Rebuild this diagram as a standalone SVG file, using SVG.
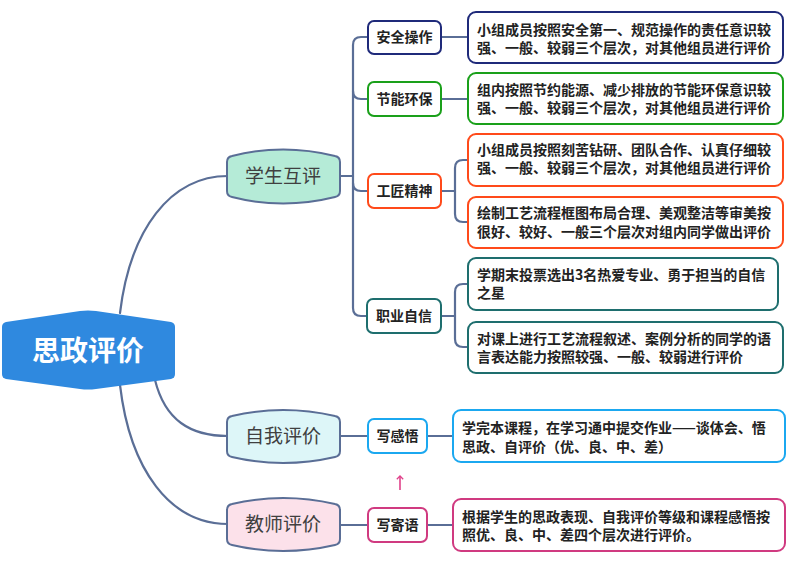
<svg xmlns="http://www.w3.org/2000/svg" width="803" height="569" viewBox="0 0 803 569">
<defs>
<style>
.ln{fill:none;stroke:#5A6E96;stroke-width:2.2;stroke-linecap:round}
.main{stroke:#5A6E96;stroke-width:2}
.mt{font-family:"Noto Sans CJK SC","Noto Sans",sans-serif;font-size:19px;fill:#404040;text-anchor:middle}
.sub{fill:#fff;stroke-width:2}
.st{font-family:"Noto Sans CJK SC","Noto Sans",sans-serif;font-size:14px;font-weight:bold;fill:#222;text-anchor:middle}
.lf{fill:#fff;stroke-width:2}
.lt{font-family:"Noto Sans CJK SC","Noto Sans",sans-serif;font-size:14px;font-weight:bold;fill:#222}
</style>
<marker id="ar" viewBox="0 0 10 10" refX="5" refY="5" markerWidth="5" markerHeight="5" orient="auto">
<path d="M1,1 L5,5 L1,9" fill="none" stroke="#E0408A" stroke-width="1.6"/>
</marker>
</defs>
<rect width="803" height="569" fill="#fff"/>
<g id="connectors">
<path class="ln" d="M120,313 C130,230 170,176 228,176"/>
<path class="ln" d="M155,380 C165,420 190,436 228,436"/>
<path class="ln" d="M120,385 C130,470 170,524 228,524"/>
<path class="ln" d="M340,176 H353"/>
<path class="ln" d="M368,37 H361 Q353,37 353,45 V308 Q353,316 361,316 H367"/>
<path class="ln" d="M353,91 Q353,99 361,99 H368"/>
<path class="ln" d="M353,183 Q353,191 361,191 H368"/>
<path class="ln" d="M441,37 H468"/>
<path class="ln" d="M441,99 H468"/>
<path class="ln" d="M441,191 H455"/>
<path class="ln" d="M468,160 H463 Q455,160 455,168 V214 Q455,222 463,222 H468"/>
<path class="ln" d="M441,316 H455"/>
<path class="ln" d="M468,284 H463 Q455,284 455,292 V339 Q455,347 463,347 H468"/>
<path class="ln" d="M340,436 H368"/>
<path class="ln" d="M427,436 H453"/>
<path class="ln" d="M340,525 H368"/>
<path class="ln" d="M427,525 H453"/>
<path d="M400,490 V476" fill="none" stroke="#E0408A" stroke-width="1.6" marker-end="url(#ar)"/>
</g>
<g id="root">
<path d="M2,327 Q2,323 6,322 L80,311 Q88,310 96,311 L171,322 Q175,323 175,327 L175,374 Q175,378 171,379 L96,389 Q88,390 80,389 L6,379 Q2,378 2,374 Z" fill="#2F89DF"/>
<text x="88" y="361" font-family="&quot;Noto Sans CJK SC&quot;,sans-serif" font-size="28" font-weight="bold" fill="#fff" text-anchor="middle">思政评价</text>
</g>
<g id="n-xshp">
<path class="main" fill="#B5EBD7" d="M227,162 Q227,157 232,156 Q283,143 335,156 Q340,157 340,162 L340,191 Q340,196 335,197 Q283,210 232,197 Q227,196 227,191 Z"/>
<text class="mt" x="283" y="183">学生互评</text>
</g>
<g id="n-zwpj">
<path class="main" fill="#DDF6F8" d="M227,422 Q227,417 232,416 Q283,404 335,416 Q340,417 340,422 L340,451 Q340,456 335,457 Q283,469 232,457 Q227,456 227,451 Z"/>
<text class="mt" x="283" y="443">自我评价</text>
</g>
<g id="n-jspj">
<path class="main" fill="#FCE1EA" d="M227,510 Q227,505 232,504 Q283,492 335,504 Q340,505 340,510 L340,539 Q340,544 335,545 Q283,557 232,545 Q227,544 227,539 Z"/>
<text class="mt" x="283" y="531">教师评价</text>
</g>
<g id="n-aqcz">
<rect class="sub" x="368" y="21" width="73" height="33" rx="6" stroke="#1F2A7A"/>
<text class="st" x="404.5" y="42">安全操作</text>
</g>
<g id="n-jnhb">
<rect class="sub" x="368" y="82" width="73" height="34" rx="6" stroke="#1AA01A"/>
<text class="st" x="404.5" y="104">节能环保</text>
</g>
<g id="n-gjjs">
<rect class="sub" x="368" y="174" width="73" height="34" rx="6" stroke="#FF4A1A"/>
<text class="st" x="404.5" y="196">工匠精神</text>
</g>
<g id="n-zyzx">
<rect class="sub" x="367" y="299" width="74" height="34" rx="6" stroke="#1E6E6E"/>
<text class="st" x="404" y="321">职业自信</text>
</g>
<g id="n-xgw">
<rect class="sub" x="368" y="419" width="59" height="34" rx="6" stroke="#1BA8F0"/>
<text class="st" x="397.5" y="441">写感悟</text>
</g>
<g id="n-xjy">
<rect class="sub" x="368" y="508" width="59" height="34" rx="6" stroke="#D03A80"/>
<text class="st" x="397.5" y="530">写寄语</text>
</g>
<g id="l-aqcz">
<rect class="lf" x="468" y="12" width="315" height="51" rx="8" stroke="#1F2A7A"/>
<text class="lt" x="477" y="35">小组成员按照安全第一、规范操作的责任意识较</text>
<text class="lt" x="477" y="53">强、一般、较弱三个层次，对其他组员进行评价</text>
</g>
<g id="l-jnhb">
<rect class="lf" x="468" y="73" width="315" height="51" rx="8" stroke="#1AA01A"/>
<text class="lt" x="477" y="95">组内按照节约能源、减少排放的节能环保意识较</text>
<text class="lt" x="477" y="113">强、一般、较弱三个层次，对其他组员进行评价</text>
</g>
<g id="l-gjjs1">
<rect class="lf" x="468" y="134" width="315" height="52" rx="8" stroke="#FF4A1A"/>
<text class="lt" x="477" y="155">小组成员按照刻苦钻研、团队合作、认真仔细较</text>
<text class="lt" x="477" y="173">强、一般、较弱三个层次，对其他组员进行评价</text>
</g>
<g id="l-gjjs2">
<rect class="lf" x="468" y="197" width="315" height="51" rx="8" stroke="#FF4A1A"/>
<text class="lt" x="477" y="218">绘制工艺流程框图布局合理、美观整洁等审美按</text>
<text class="lt" x="477" y="237">很好、较好、一般三个层次对组内同学做出评价</text>
</g>
<g id="l-zyzx1">
<rect class="lf" x="468" y="258" width="310" height="52" rx="8" stroke="#1E6E6E"/>
<text class="lt" x="477" y="280">学期末投票选出3名热爱专业、勇于担当的自信</text>
<text class="lt" x="477" y="298">之星</text>
</g>
<g id="l-zyzx2">
<rect class="lf" x="468" y="322" width="315" height="51" rx="8" stroke="#1E6E6E"/>
<text class="lt" x="477" y="344">对课上进行工艺流程叙述、案例分析的同学的语</text>
<text class="lt" x="477" y="362">言表达能力按照较强、一般、较弱进行评价</text>
</g>
<g id="l-xgw">
<rect class="lf" x="453" y="410" width="332" height="52" rx="8" stroke="#1BA8F0"/>
<text class="lt" x="462" y="433">学完本课程，在学习通中提交作业——谈体会、悟</text>
<text class="lt" x="462" y="452">思政、自评价（优、良、中、差）</text>
</g>
<g id="l-xjy">
<rect class="lf" x="453" y="499" width="332" height="52" rx="8" stroke="#D03A80"/>
<text class="lt" x="462" y="522">根据学生的思政表现、自我评价等级和课程感悟按</text>
<text class="lt" x="462" y="540">照优、良、中、差四个层次进行评价。</text>
</g>
</svg>
